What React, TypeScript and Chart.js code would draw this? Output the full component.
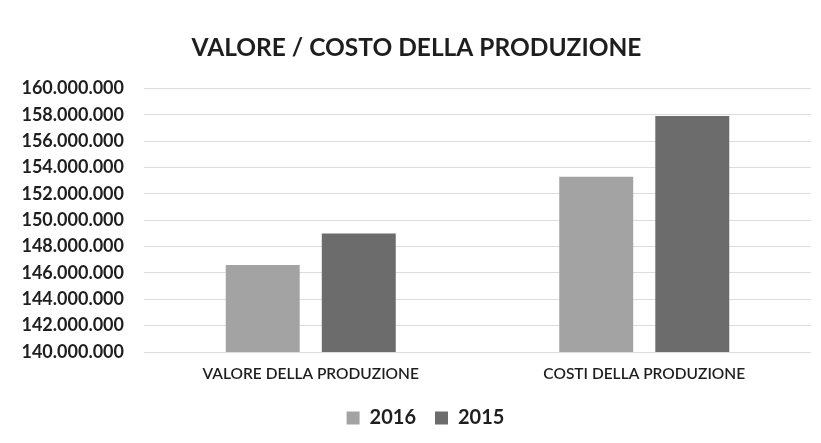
import React, { useEffect, useRef } from "react";
import { Chart, registerables } from "chart.js";

Chart.register(...registerables);

const chartTitle = "VALORE / COSTO DELLA PRODUZIONE";
const categories = ["VALORE DELLA PRODUZIONE", "COSTI DELLA PRODUZIONE"];
const seriesLabels = ["2016", "2015"];
const values2016 = [146600000, 153300000];
const values2015 = [149000000, 157900000];
const seriesColors = ["#a3a3a3", "#6c6c6c"];
const yMin = 140000000;
const yMax = 160000000;
const yStep = 2000000;

function formatTick(v: number): string {
  return String(Math.round(v)).replace(/\B(?=(\d{3})+(?!\d))/g, ".");
}

const FONT = "Lato";
const TEXT = "#1e1e1e";

const legendShift = {
  id: "legendShift",
  afterLayout(chart: any) {
    if (chart.legend) {
      chart.legend.left += 9;
      chart.legend.right += 9;
    }
  },
};

export default function App() {
  const canvasRef = useRef<HTMLCanvasElement | null>(null);

  useEffect(() => {
    if (!canvasRef.current) return;
    const chart = new Chart(canvasRef.current, {
      type: "bar",
      data: {
        labels: categories,
        datasets: [
          {
            label: seriesLabels[0],
            data: values2016,
            backgroundColor: seriesColors[0],
            categoryPercentage: 0.576,
            barPercentage: 0.77,
          },
          {
            label: seriesLabels[1],
            data: values2015,
            backgroundColor: seriesColors[1],
            categoryPercentage: 0.576,
            barPercentage: 0.77,
          },
        ],
      },
      plugins: [legendShift],
      options: {
        responsive: true,
        maintainAspectRatio: false,
        animation: false,
        layout: { padding: { left: 22, right: 10, top: 0, bottom: 5 } },
        plugins: {
          title: {
            display: true,
            text: chartTitle,
            color: TEXT,
            font: { family: FONT, size: 24.5, weight: "bold" },
            padding: { top: 33, bottom: 26 },
          },
          legend: {
            position: "bottom",
            labels: {
              boxWidth: 13,
              boxHeight: 13,
              padding: 19,
              color: TEXT,
              font: { family: FONT, size: 20, weight: "bold" },
            },
          },
          tooltip: { enabled: false },
        },
        scales: {
          x: {
            grid: { display: false },
            border: { display: false },
            ticks: {
              color: TEXT,
              font: { family: FONT, size: 15.5, weight: "600" },
              padding: 5,
              maxRotation: 0,
              autoSkip: false,
            },
            afterFit: (s: any) => {
              s.height = 37;
            },
          },
          y: {
            min: yMin,
            max: yMax,
            ticks: {
              stepSize: yStep,
              callback: (v: any) => formatTick(Number(v)),
              color: TEXT,
              font: { family: FONT, size: 18, weight: "bold" },
              padding: 20,
            },
            grid: { color: "#dcdcdc", drawTicks: false },
            border: { display: false },
            afterFit: (s: any) => {
              s.width = 122;
            },
          },
        },
      },
    } as any);
    return () => chart.destroy();
  }, []);

  return (
    <div style={{ position: "fixed", left: 0, top: 0, width: 821, height: 443, background: "#fff" }}>
      <canvas ref={canvasRef} />
    </div>
  );
}
